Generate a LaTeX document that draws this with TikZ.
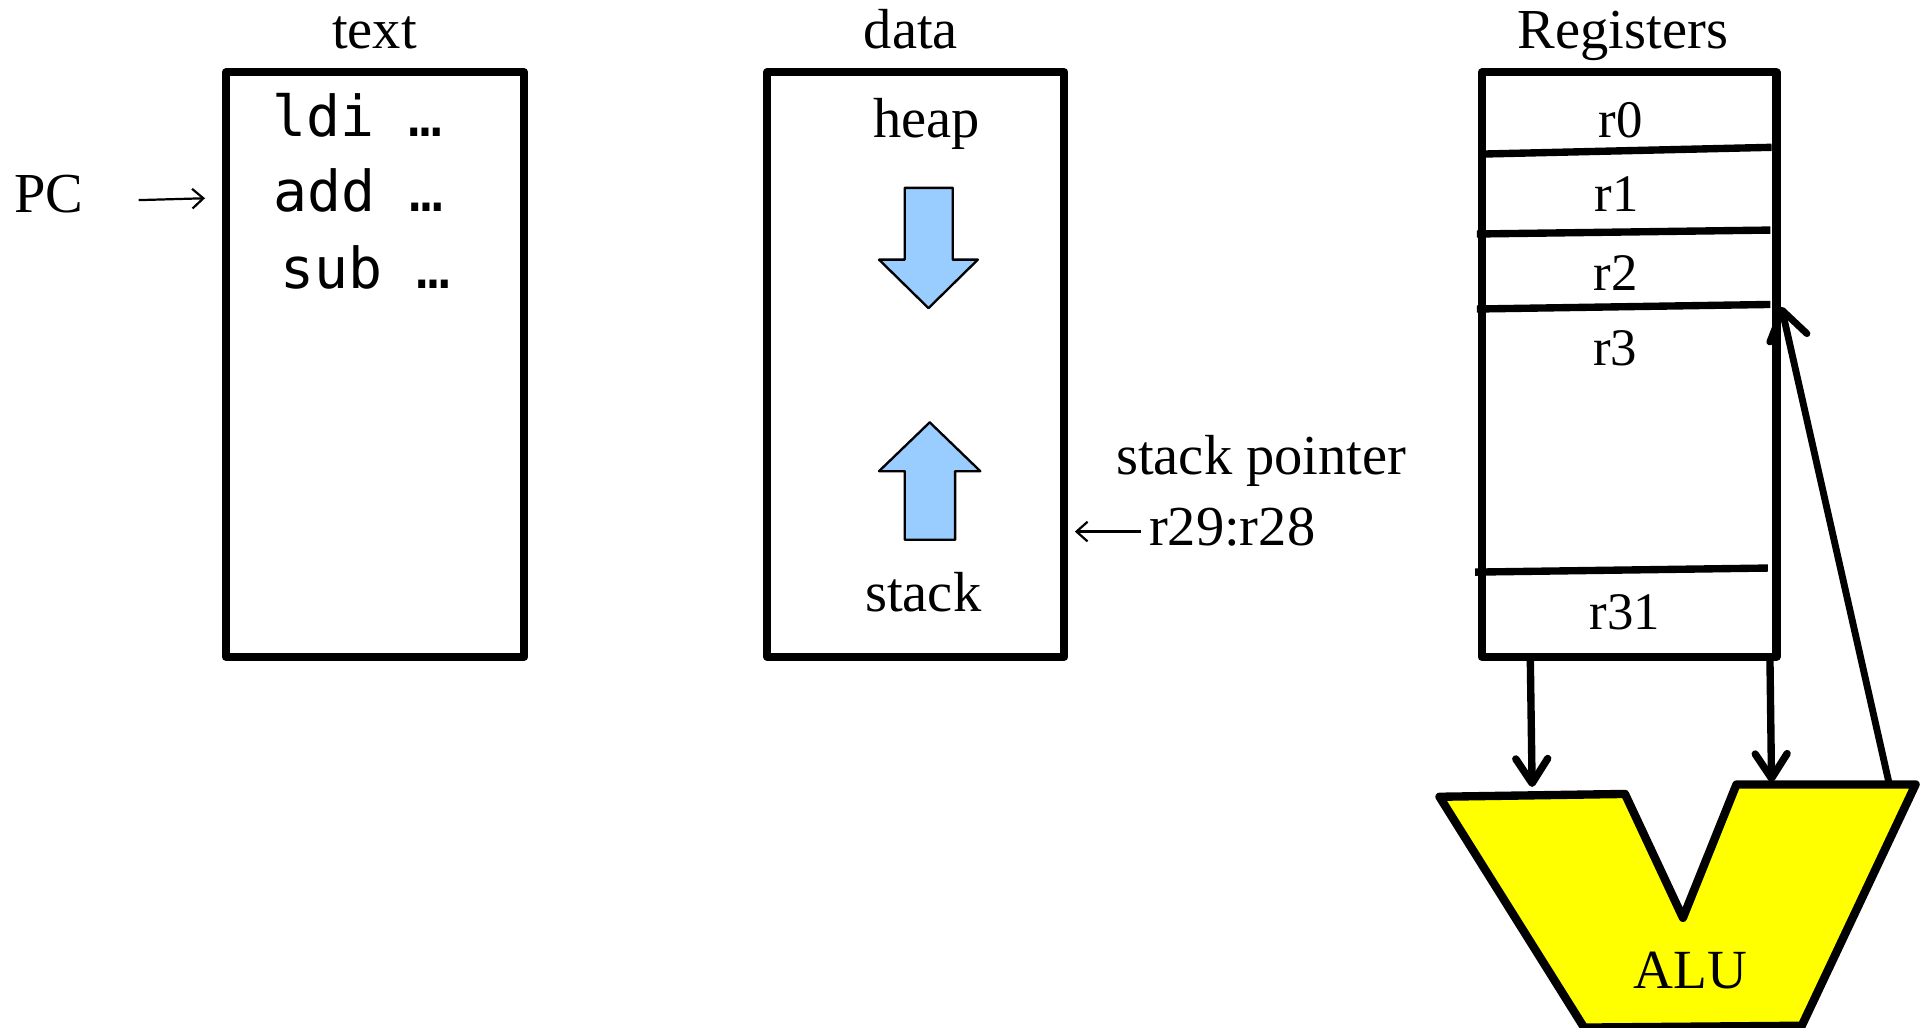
\documentclass[tikz,border=0pt]{standalone}
\usepackage{fontspec}
\setmainfont{Liberation Serif}
\setmonofont{DejaVu Sans Mono}
\usetikzlibrary{arrows.meta}
\definecolor{heapblue}{HTML}{99CCFF}
\definecolor{aluyellow}{HTML}{FFFF00}
\begin{document}
\begin{tikzpicture}[x=1pt,y=-1pt,line join=round,
  lbl/.style={inner sep=0pt,anchor=base,font=\fontsize{46}{50}\selectfont},
  lblw/.style={inner sep=0pt,anchor=base west,font=\fontsize{46}{50}\selectfont},
  reglbl/.style={inner sep=0pt,anchor=base,font=\fontsize{43}{48}\selectfont},
  code/.style={inner sep=0pt,anchor=base,font=\ttfamily\fontsize{46}{50}\selectfont},
  membox/.style={draw,line width=6.6pt,rectangle,inner sep=0pt,minimum height=476pt},
  divider/.style={line width=6pt,line cap=butt},
  thinarrow/.style={line width=1.8pt,-{Straight Barb[length=9pt,width=16pt]}},
  bus/.style={line width=6pt,-{Straight Barb[length=20pt,width=26pt,round]}},
  growth/.style={draw,line width=1.9pt,fill=heapblue},
  alu/.style={draw,line width=6.8pt,fill=aluyellow}
]
\useasboundingbox (0,0) rectangle (1568,837);

% segment titles
\node[lbl] (ttext) at (305,39.4) {text};
\node[lbl] (tdata) at (742,39.4) {data};
\node[lbl] (tregs) at (1322,39.4) {Registers};

% memory segments and register file
\node[membox,minimum width=243pt] (textseg) at (305.5,297) {};
\node[membox,minimum width=242pt] (dataseg) at (746,297) {};
\node[membox,minimum width=240pt] (regfile) at (1327,297) {};

% program text
\node[code] (ildi) at (291.5,111.3) {ldi …};
\node[code] (iadd) at (292,172.4) {add …};
\node[code] (isub) at (298,234.8) {sub …};

% program counter
\node[lbl] (pc) at (40,173) {PC};
\coordinate (pcTail) at (113,163);
\coordinate (pcHead) at (167,161.5);
\draw[thinarrow] (pcTail) -- (pcHead);

% heap and stack growing towards each other
\node[lbl] (heap) at (754.7,112) {heap};
\node[lbl] (stack) at (752,497.8) {stack};
\draw[growth] (737,153) -- (776,153) -- (776,211.5) -- (796.5,211.5) -- (756.3,251)
  -- (716,211.5) -- (737,211.5) -- cycle;
\draw[growth] (757.3,344) -- (798.5,383.8) -- (778,383.8) -- (778,439.7) -- (737,439.7)
  -- (737,383.8) -- (716,383.8) -- cycle;

% stack pointer
\node[lblw] (sp) at (909,386.5) {stack pointer};
\node[lblw] (spreg) at (935.7,444.7) {r29:r28};
\coordinate (spTail) at (929,433);
\coordinate (spHead) at (875.5,433);
\draw[thinarrow] (spTail) -- (spHead);

% register rows
\draw[divider] (1207,125.5) -- (1443,120);
\draw[divider] (1203,190.6) -- (1442,187.4);
\draw[divider] (1203,251.7) -- (1442,248);
\draw[divider] (1201.5,466) -- (1440,462.7);
\node[reglbl] (r0) at (1320,111.7) {r0};
\node[reglbl] (r1) at (1317,172) {r1};
\node[reglbl] (r2) at (1316,237) {r2};
\node[reglbl] (r3) at (1315.5,298) {r3};
\node[reglbl] (r31) at (1323.6,512.5) {r31};

% ALU
\draw[alu] (1172.5,649) -- (1323.6,646.7) -- (1370.8,747.6) -- (1414.4,639)
  -- (1560.3,639) -- (1467.6,835.5) -- (1290.3,837) -- cycle;
\node[lbl,font=\fontsize{45}{50}\selectfont] (alu) at (1377,805) {ALU};

% operand buses and result path
\coordinate (busAtop) at (1246.5,537);
\coordinate (busAend) at (1248,641);
\coordinate (busBtop) at (1441.7,537);
\coordinate (busBend) at (1443,637);
\coordinate (resStart) at (1538.5,637);
\coordinate (resEnd) at (1451,250);
\draw[bus] (busAtop) -- (busAend);
\draw[bus] (busBtop) -- (busBend);
\draw[line width=5.6pt,-{Straight Barb[length=23pt,width=31pt,round]}] (resStart) -- (resEnd);
\end{tikzpicture}
\end{document}
